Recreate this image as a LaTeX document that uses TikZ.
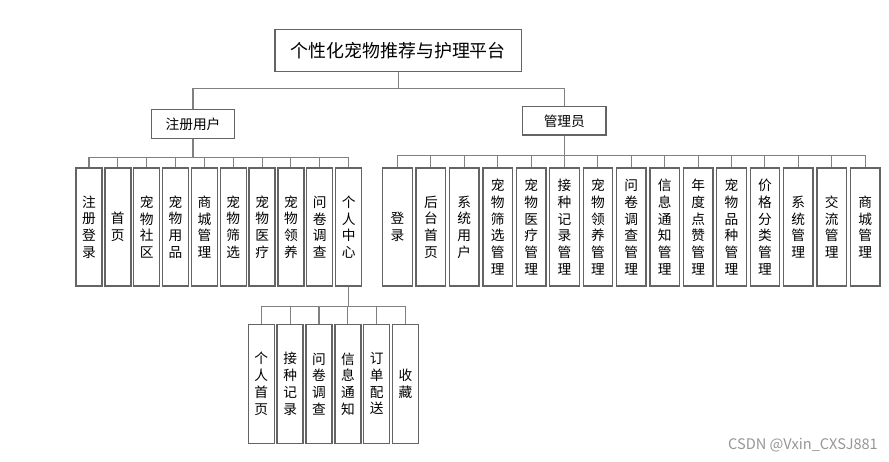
\documentclass[tikz,border=0pt]{standalone}
\usepackage{fontspec}
\setmainfont{Noto Sans CJK SC}
\definecolor{boxline}{RGB}{100,100,100}
\definecolor{linkline}{RGB}{128,128,128}
\definecolor{markgray}{RGB}{150,150,150}

\begin{document}
\begin{tikzpicture}[x=0.02cm,y=-0.02cm,
        box/.style={draw=boxline,line width=0.75pt,fill=white,inner sep=0pt,align=center},
        leaf/.style={box,font=\fontsize{7.8}{9.5}\selectfont},
        link/.style={draw=linkline,line width=0.6pt}]
    \useasboundingbox (0,0) rectangle (889,461);

    % top levels
    \node[box,minimum width=4.93cm,minimum height=0.85cm,font=\fontsize{10.2}{12}\selectfont] (root) at (398.3,50.5) {个性化宠物推荐与护理平台};
    \node[box,minimum width=1.65cm,minimum height=0.58cm,font=\fontsize{7.8}{9.5}\selectfont] (user) at (193,123.8) {注册用户};
    \node[box,minimum width=1.67cm,minimum height=0.57cm,font=\fontsize{7.8}{9.5}\selectfont] (admin) at (564.3,120.8) {管理员};

    \draw[link] (root.south) -- ++(0,16.3) -| (user.north);
    \draw[link] (root.south) -- ++(0,16.3) -| (admin.north);

    % registered user
    \foreach \t [count=\i] in {{注\\册\\登\\录},{首\\页},{宠\\物\\社\\区},{宠\\物\\用\\品},{商\\城\\管\\理},{宠\\物\\筛\\选},{宠\\物\\医\\疗},{宠\\物\\领\\养},{问\\卷\\调\\查},{个\\人\\中\\心}}{
        \node[leaf,minimum width=0.52cm,minimum height=2.36cm] (u\i) at ({89+(\i-1)*28.85},227) {\t};
        \draw[link] (user.south) -- ++(0,18.7) -| (u\i.north);
    }

    % administrator
    \foreach \t [count=\i] in {{登\\录},{后\\台\\首\\页},{系\\统\\用\\户},{宠\\物\\筛\\选\\管\\理},{宠\\物\\医\\疗\\管\\理},{接\\种\\记\\录\\管\\理},{宠\\物\\领\\养\\管\\理},{问\\卷\\调\\查\\管\\理},{信\\息\\通\\知\\管\\理},{年\\度\\点\\赞\\管\\理},{宠\\物\\品\\种\\管\\理},{价\\格\\分\\类\\管\\理},{系\\统\\管\\理},{交\\流\\管\\理},{商\\城\\管\\理}}{
        \node[leaf,minimum width=0.59cm,minimum height=2.36cm] (a\i) at ({397.5+(\i-1)*33.4},227) {\t};
        \draw[link] (admin.south) -- ++(0,20) -| (a\i.north);
    }

    % personal center
    \foreach \t [count=\i] in {{个\\人\\首\\页},{接\\种\\记\\录},{问\\卷\\调\\查},{信\\息\\通\\知},{订\\单\\配\\送},{收\\藏}}{
        \node[leaf,minimum width=0.52cm,minimum height=2.38cm] (p\i) at ({261.3+(\i-1)*28.85},383.8) {\t};
        \draw[link] (u10.south) -- ++(0,20) -| (p\i.north);
    }

    \node[text=markgray,font=\fontsize{8.3}{9}\selectfont] (mark) at (803,445) {CSDN @Vxin\_CXSJ881};
\end{tikzpicture}
\end{document}
